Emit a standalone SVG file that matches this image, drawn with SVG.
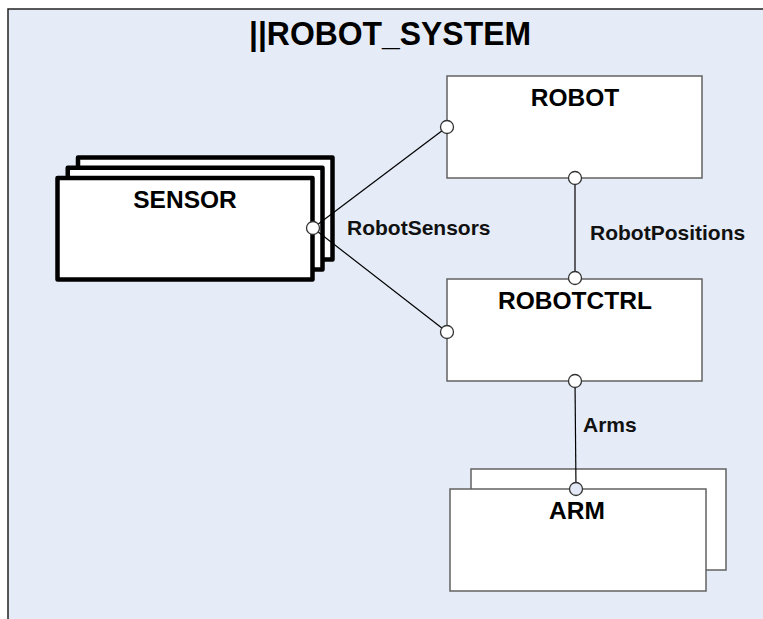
<svg xmlns="http://www.w3.org/2000/svg" width="763" height="619" viewBox="0 0 763 619">
  <style>
    .frame { fill: #E5ECF7; stroke: #222; stroke-width: 1.5; }
    .box { fill: #fff; stroke: #626262; stroke-width: 1.5; }
    .thick { fill: #fff; stroke: #000; stroke-width: 4.5; stroke-linejoin: round; }
    .name { font-family: "Liberation Sans", Arial, sans-serif; font-weight: bold; font-size: 24.5px; fill: #000; text-anchor: middle; }
    .label { font-family: "Liberation Sans", Arial, sans-serif; font-weight: bold; font-size: 21px; fill: #111; }
    .title { font-family: "Liberation Sans", Arial, sans-serif; font-weight: bold; font-size: 33px; fill: #000; text-anchor: middle; }
    .wire { stroke: #000; stroke-width: 1.2; fill: none; }
    .port { fill: #fff; stroke: #333; stroke-width: 1.3; }
    .port2 { fill: #E2E9F4; stroke: #333; stroke-width: 1.3; }
  </style>
  <rect x="0" y="0" width="763" height="619" fill="#fff"/>
  <g id="frame">
    <rect class="frame" x="8" y="9" width="770" height="620"/>
    <text class="title" x="390" y="45" textLength="282" lengthAdjust="spacingAndGlyphs">||ROBOT_SYSTEM</text>
  </g>
  <g id="sensor">
    <rect class="thick" x="78" y="157.5" width="254.5" height="102"/>
    <rect class="thick" x="67.75" y="167.75" width="254.75" height="101.75"/>
    <rect class="thick" x="57.5" y="178" width="255" height="101.5"/>
    <text class="name" x="185" y="208">SENSOR</text>
  </g>
  <g id="robot">
    <rect class="box" x="447" y="76" width="255" height="102"/>
    <text class="name" x="575" y="106">ROBOT</text>
  </g>
  <g id="robotctrl">
    <rect class="box" x="447" y="279" width="255" height="102"/>
    <text class="name" x="575" y="309">ROBOTCTRL</text>
  </g>
  <g id="arm">
    <rect class="box" x="471" y="469" width="255" height="101"/>
    <rect class="box" x="450" y="489" width="256" height="102"/>
    <text class="name" x="577" y="519">ARM</text>
  </g>
  <g id="connectors">
    <line class="wire" x1="313" y1="228" x2="447" y2="127"/>
    <line class="wire" x1="313" y1="228" x2="447" y2="332"/>
    <line class="wire" x1="575" y1="178" x2="575" y2="279"/>
    <line class="wire" x1="575" y1="381" x2="576" y2="489"/>
    <text class="label" x="347" y="235">RobotSensors</text>
    <text class="label" x="590" y="240">RobotPositions</text>
    <text class="label" x="583" y="432">Arms</text>
  </g>
  <g id="ports">
    <circle class="port" cx="313" cy="228" r="6.5"/>
    <circle class="port" cx="447" cy="127" r="6.5"/>
    <circle class="port" cx="447" cy="332" r="6.5"/>
    <circle class="port" cx="575" cy="178" r="6.5"/>
    <circle class="port" cx="575" cy="278" r="6.5"/>
    <circle class="port" cx="575" cy="381" r="6.5"/>
    <circle class="port2" cx="576" cy="489" r="6.5"/>
  </g>
</svg>
